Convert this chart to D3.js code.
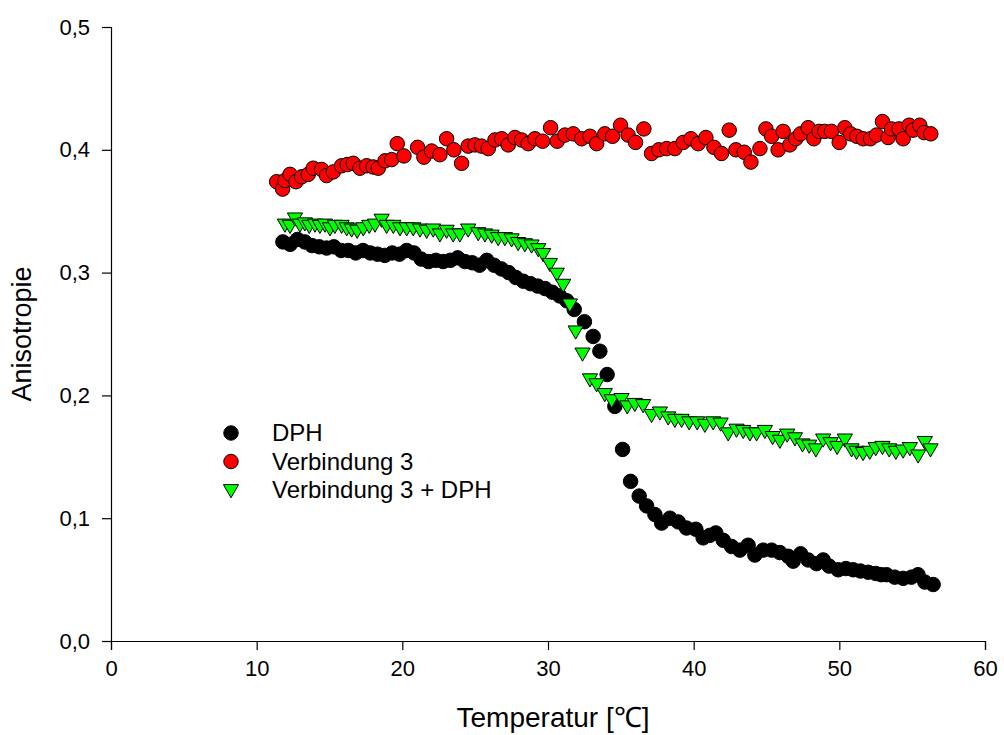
<!DOCTYPE html>
<html><head><meta charset="utf-8">
<script src="https://cdn.jsdelivr.net/npm/d3@7"></script>
<style>
html,body{margin:0;padding:0;background:#fff;}
svg text{font-family:"Liberation Sans",Arial,sans-serif;fill:#000;}
</style></head>
<body>
<svg id="chart" width="1004" height="735"></svg>
<script>
const xTicks = [0,10,20,30,40,50,60];
const yTicks = [0,0.1,0.2,0.3,0.4,0.5];
const seriesNames = ["DPH","Verbindung 3","Verbindung 3 + DPH"];
const xTitle = "Temperatur [℃]";
const yTitle = "Anisotropie";

const dphX = [11.8,12.3,12.8,13.3,13.8,14.3,14.8,15.3,15.8,16.3,16.8,17.3,17.8,18.3,18.8,19.3,19.8,20.3,20.8,21.3,21.8,22.3,22.8,23.3,23.8,24.3,24.8,25.3,25.8,26.3,26.8,27.3,27.8,28.3,28.8,29.3,29.8,30.3,30.8,31.3,31.8,32.5,33.1,33.56,34.06,34.59,35.12,35.67,36.26,36.77,37.34,37.8,38.37,38.94,39.51,40.15,40.65,41.1,41.52,42.03,42.6,43.17,43.74,44.2,44.77,45.35,45.92,46.49,46.83,47.34,47.86,48.43,48.89,49.3,49.92,50.45,50.95,51.45,51.98,52.5,52.87,53.24,53.8,54.38,54.95,55.4,55.87,56.44];
const dphY = [0.325,0.323,0.327,0.325,0.322,0.321,0.320,0.321,0.318,0.318,0.316,0.318,0.316,0.315,0.314,0.316,0.315,0.318,0.316,0.311,0.309,0.310,0.309,0.310,0.312,0.309,0.308,0.306,0.310,0.306,0.303,0.300,0.296,0.293,0.291,0.289,0.287,0.284,0.281,0.277,0.270,0.260,0.248,0.236,0.217,0.191,0.156,0.130,0.118,0.110,0.103,0.096,0.100,0.097,0.092,0.091,0.084,0.086,0.088,0.082,0.077,0.074,0.078,0.070,0.074,0.074,0.072,0.069,0.065,0.071,0.066,0.063,0.066,0.061,0.058,0.059,0.058,0.057,0.056,0.055,0.054,0.054,0.052,0.051,0.052,0.054,0.048,0.046];

const v3X = [11.37,11.78,11.94,12.29,12.70,13.09,13.54,13.88,14.46,14.80,15.26,15.83,16.22,16.63,17.09,17.55,18.00,18.35,18.81,19.27,19.65,20.11,21.05,21.48,22.01,22.58,23.04,23.54,24.07,24.52,24.98,25.44,25.90,26.36,26.82,27.27,27.73,28.19,28.64,29.10,29.63,30.18,30.63,31.16,31.73,32.31,32.88,33.34,33.90,34.43,34.98,35.50,36.01,36.58,37.11,37.61,38.15,38.71,39.28,39.81,40.31,40.84,41.39,41.91,42.44,42.90,43.47,43.93,44.55,44.96,45.35,45.80,46.14,46.60,47.01,47.34,47.86,48.25,48.61,49.00,49.46,49.99,50.38,50.77,51.20,51.63,52.14,52.55,52.96,53.35,53.58,54.10,54.38,54.79,55.06,55.52,55.82,56.28];
const v3Y = [0.374,0.368,0.375,0.380,0.374,0.378,0.380,0.385,0.384,0.379,0.382,0.387,0.388,0.389,0.385,0.387,0.386,0.385,0.391,0.392,0.405,0.395,0.402,0.394,0.399,0.396,0.409,0.400,0.389,0.403,0.404,0.403,0.401,0.408,0.409,0.404,0.410,0.408,0.405,0.409,0.407,0.418,0.407,0.412,0.413,0.409,0.411,0.405,0.413,0.411,0.420,0.412,0.406,0.417,0.397,0.400,0.401,0.401,0.406,0.409,0.405,0.410,0.402,0.397,0.416,0.400,0.398,0.390,0.401,0.417,0.411,0.400,0.415,0.404,0.409,0.413,0.418,0.409,0.415,0.415,0.415,0.406,0.418,0.413,0.411,0.409,0.409,0.412,0.423,0.410,0.417,0.417,0.409,0.420,0.416,0.420,0.414,0.413];

const v3dX = [11.94,12.29,12.63,12.97,13.31,13.61,14.0,14.34,14.69,15.03,15.37,15.83,16.18,16.52,16.9,17.32,17.73,18.12,18.58,18.92,19.38,19.84,20.3,20.75,21.21,21.67,22.12,22.58,23.04,23.49,23.95,24.52,25.21,25.67,26.13,26.58,27.04,27.5,27.95,28.41,28.87,29.33,29.67,30.13,30.6,31.04,31.5,31.9,32.37,32.88,33.34,33.9,34.37,35.05,35.44,35.96,36.53,37.11,37.68,38.25,38.71,39.17,39.69,40.24,40.77,41.34,41.85,42.37,42.94,43.4,43.86,44.32,44.89,45.42,45.92,46.42,46.95,47.47,47.93,48.39,48.89,49.4,49.85,50.38,50.84,51.18,51.63,52.09,52.5,52.96,53.42,53.88,54.38,54.84,55.41,55.87,56.26];
const v3dY = [0.340,0.339,0.345,0.340,0.341,0.339,0.340,0.339,0.340,0.337,0.339,0.339,0.337,0.336,0.335,0.337,0.339,0.340,0.344,0.339,0.339,0.337,0.337,0.337,0.336,0.335,0.336,0.332,0.335,0.332,0.332,0.336,0.333,0.332,0.331,0.329,0.329,0.328,0.325,0.324,0.323,0.320,0.316,0.308,0.300,0.291,0.275,0.253,0.235,0.214,0.210,0.202,0.197,0.198,0.192,0.194,0.193,0.185,0.187,0.183,0.181,0.181,0.179,0.179,0.177,0.179,0.178,0.170,0.173,0.172,0.170,0.170,0.172,0.167,0.164,0.169,0.166,0.161,0.160,0.157,0.165,0.162,0.159,0.165,0.157,0.155,0.154,0.155,0.158,0.159,0.157,0.155,0.156,0.158,0.152,0.163,0.157];

const svg = d3.select("#chart");
const x = d3.scaleLinear().domain([0,60]).range([111,985]);
const y = d3.scaleLinear().domain([0,0.5]).range([641,27]);
const loc = d3.formatLocale({decimal:",",thousands:".",grouping:[3],currency:["","€"]});

const xAxis = svg.append("g").attr("transform","translate(0,641)")
  .call(d3.axisBottom(x).tickValues(xTicks).tickSize(9).tickPadding(10).tickFormat(d3.format("d")));
const yAxis = svg.append("g").attr("transform","translate(111,0)")
  .call(d3.axisLeft(y).tickValues(yTicks).tickSize(9).tickPadding(12).tickFormat(loc.format(".1f")));
[xAxis,yAxis].forEach(g=>{
  g.select(".domain").attr("stroke","#000").attr("stroke-width",1.2);
  g.selectAll(".tick line").attr("stroke","#000").attr("stroke-width",1.2);
  g.selectAll("text").attr("font-size",22).attr("font-family","'Liberation Sans',Arial,sans-serif").attr("fill","#000");
});

svg.append("text").attr("x",553).attr("y",727).attr("text-anchor","middle").attr("font-size",28).text(xTitle);
svg.append("text").attr("transform","translate(31,334) rotate(-90)").attr("text-anchor","middle").attr("font-size",27).text(yTitle);

const circ = d3.symbol().type(d3.symbolCircle).size(165);
const tri = d3.symbol().type(d3.symbolTriangle).size(100);

function plot(xs, ys, sym, fill, rot){
  svg.append("g").selectAll("path").data(xs.map((v,i)=>[v,ys[i]])).join("path")
    .attr("d",sym)
    .attr("transform",d=>`translate(${x(d[0])},${y(d[1])}) rotate(${rot})`)
    .attr("fill",fill).attr("stroke","#000").attr("stroke-width",1);
}
plot(dphX,dphY,circ,"#000",0);
plot(v3X,v3Y,circ,"#ff0000",0);
plot(v3dX,v3dY,tri,"#00ff00",180);

const legend = [{sym:circ,fill:"#000",rot:0},{sym:circ,fill:"#ff0000",rot:0},{sym:tri,fill:"#00ff00",rot:180}];
const lg = svg.append("g");
legend.forEach((l,i)=>{
  const cy = 433 + i*28.5;
  lg.append("path").attr("d",l.sym).attr("transform",`translate(231,${cy + (i===2?-1:0)}) rotate(${l.rot})`)
    .attr("fill",l.fill).attr("stroke","#000").attr("stroke-width",1);
  lg.append("text").attr("x",272).attr("y",cy).attr("dy","0.35em").attr("font-size",24).text(seriesNames[i]);
});
</script>
</body></html>
